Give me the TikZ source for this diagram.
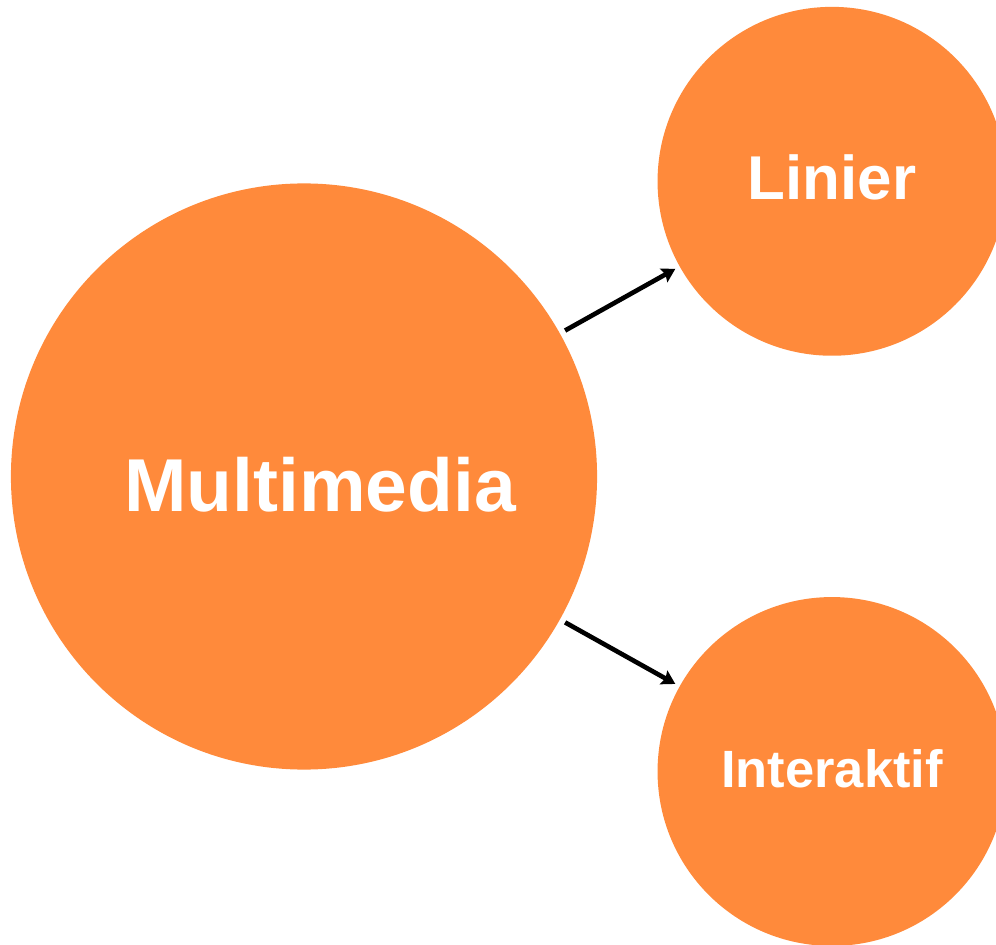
\documentclass[tikz,border=0pt]{standalone}
\usepackage{fontspec}
\setmainfont{Liberation Sans}
\usepackage{tikz}
\usetikzlibrary{arrows.meta}

\definecolor{bubbleorange}{HTML}{FF8A3B}

\tikzset{
	bubble/.style={circle, fill=bubbleorange, draw=none, inner sep=0pt, outer sep=0pt, text=white, font=\bfseries},
	link/.style={-{Stealth[length=9.5pt, width=11pt, inset=1.5pt]}, line width=3.3pt, shorten <=4.3pt, shorten >=3.6pt}
}

\begin{document}
\begin{tikzpicture}[x=0.025cm, y=-0.025cm]
					\useasboundingbox (0,0) rectangle (996,945);
					\clip (0,0) rectangle (996,945);

					\begin{scope}
						\node [bubble, minimum size=14.65cm] (multimedia) at (304,476.5) {};
						\node [text=white, font=\fontsize{53.3}{60}\selectfont\bfseries, inner sep=0pt] (multimediatext) at ([shift={(16,8)}]multimedia.center) {Multimedia};
					\end{scope}

					\begin{scope}
						\node [bubble, minimum size=8.72cm, text depth=5.7pt, font=\fontsize{44}{50}\selectfont\bfseries] (linier) at (832,181.3) {Linier};
						\node [bubble, minimum size=8.72cm, text depth=4.3pt, font=\fontsize{37.3}{42}\selectfont\bfseries] (interaktif) at (832,771.5) {Interaktif};
					\end{scope}

					\begin{scope}[link]
						\draw (multimedia) -- (linier);
						\draw (multimedia) -- (interaktif);
					\end{scope}
				\end{tikzpicture}
\end{document}
